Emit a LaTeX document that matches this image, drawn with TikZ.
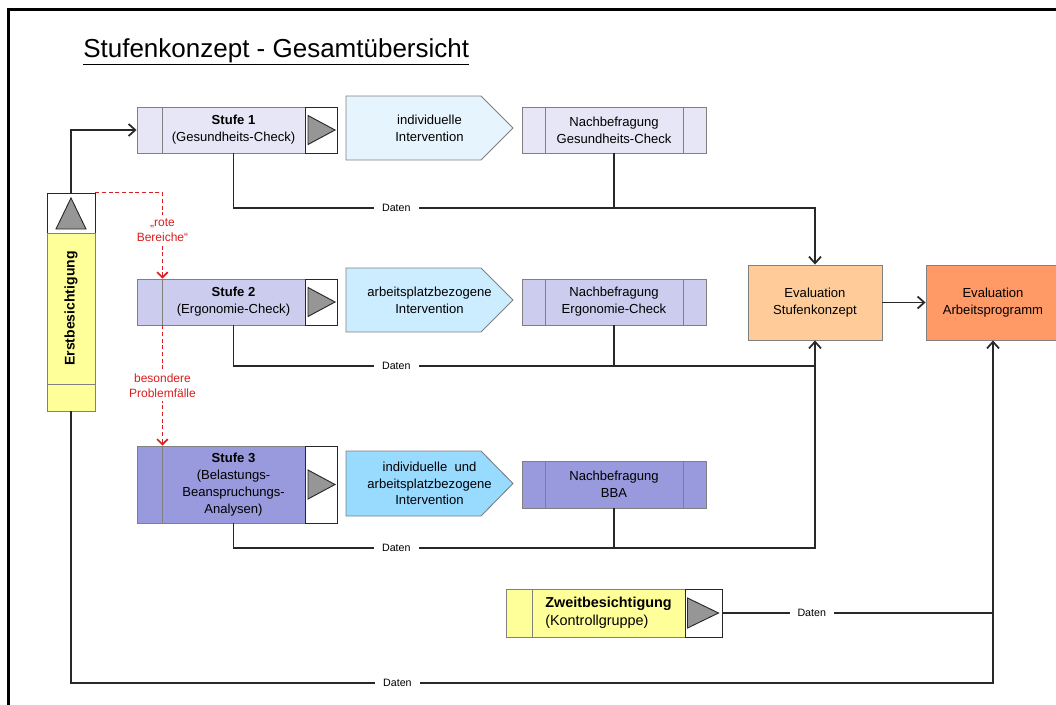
\documentclass[tikz,border=0pt]{standalone}
\usepackage{fontspec}
\setmainfont{Liberation Sans}
\usetikzlibrary{shapes,arrows.meta,calc}

\definecolor{stufeA}{RGB}{230,230,246}
\definecolor{stufeB}{RGB}{204,204,238}
\definecolor{stufeC}{RGB}{153,153,221}
\definecolor{chevA}{RGB}{230,244,253}
\definecolor{chevB}{RGB}{204,236,255}
\definecolor{chevC}{RGB}{153,218,255}
\definecolor{gelb}{RGB}{255,255,153}
\definecolor{evalA}{RGB}{255,204,153}
\definecolor{evalB}{RGB}{255,153,102}
\definecolor{boxgray}{RGB}{128,128,128}
\definecolor{darkline}{RGB}{40,40,40}
\definecolor{redline}{RGB}{220,30,30}
\definecolor{trigray}{RGB}{150,150,150}

\begin{document}
\begin{tikzpicture}[x=0.75pt,y=-0.75pt,
	bw/.style={minimum width=#1*0.75pt},
	bh/.style={minimum height=#1*0.75pt},
	box/.style={draw=boxgray, line width=0.7pt, inner sep=0pt, align=center, font=\fontsize{9.8}{12.6}\selectfont},
	tribox/.style={draw=darkline, fill=white, line width=0.7pt, inner sep=0pt},
	trimark/.style={draw=darkline, fill=trigray, line width=0.7pt},
	chevron/.style={draw=boxgray, line width=0.7pt},
	chevtext/.style={inner sep=0pt, align=center, font=\fontsize{9.8}{12.6}\selectfont},
	flow/.style={draw=darkline, line width=1.3pt},
	pfeil/.style={-{Straight Barb[length=5pt,width=9pt]}},
	daten/.style={fill=white, inner xsep=6pt, inner ysep=1pt, font=\fontsize{8}{9}\selectfont},
	rot/.style={draw=redline, line width=1.2pt, dash pattern=on 3pt off 2pt},
	rotpfeil/.style={-{Straight Barb[length=4pt,width=8pt]}},
	rotlabel/.style={fill=white, text=redline, align=center, inner xsep=1pt, inner ysep=3pt, font=\fontsize{9}{11}\selectfont}
]
	\useasboundingbox (0,0) rectangle (1056,704);
	\draw[line width=2.3pt] (8.7,9.5) rectangle (1100,760);

	\node[anchor=base west, inner sep=0pt, font=\fontsize{19.5}{23}\selectfont] (title) at (83,57) {\underline{Stufenkonzept - Gesamtübersicht}};

	% Stufe 1
	\node[box,bw=25,bh=46,fill=stufeA] (s1strip) at (149.5,130) {};
	\node[box,bw=143,bh=46,fill=stufeA] (s1main) at (233.5,130) {\textbf{Stufe 1}\\(Gesundheits-Check)};
	\node[tribox,bw=32,bh=46] (s1tri) at (321,130) {};
	\coordinate (c1) at (429.5,128);
	\draw[chevron,fill=chevA] ($(c1)+(-83.5,-32)$) -- ($(c1)+(51.5,-32)$) -- ($(c1)+(83.5,0)$) -- ($(c1)+(51.5,32)$) -- ($(c1)+(-83.5,32)$) -- cycle;
	\node[chevtext] (i1) at (c1) {individuelle\\Intervention};
	\node[box,bw=23,bh=46,fill=stufeA] (n1strip) at (533.5,130) {};
	\node[box,bw=138,bh=46,fill=stufeA] (n1main) at (614,130) {Nachbefragung\\Gesundheits-Check};
	\node[box,bw=23,bh=46,fill=stufeA] (n1end) at (694.5,130) {};

	% Stufe 2
	\node[box,bw=25,bh=46,fill=stufeB] (s2strip) at (149.5,302) {};
	\node[box,bw=143,bh=46,fill=stufeB] (s2main) at (233.5,302) {\textbf{Stufe 2}\\(Ergonomie-Check)};
	\node[tribox,bw=32,bh=46] (s2tri) at (321,302) {};
	\coordinate (c2) at (429.5,300);
	\draw[chevron,fill=chevB] ($(c2)+(-83.5,-32)$) -- ($(c2)+(51.5,-32)$) -- ($(c2)+(83.5,0)$) -- ($(c2)+(51.5,32)$) -- ($(c2)+(-83.5,32)$) -- cycle;
	\node[chevtext] (i2) at (c2) {arbeitsplatzbezogene\\Intervention};
	\node[box,bw=23,bh=46,fill=stufeB] (n2strip) at (533.5,302) {};
	\node[box,bw=138,bh=46,fill=stufeB] (n2main) at (614,302) {Nachbefragung\\Ergonomie-Check};
	\node[box,bw=23,bh=46,fill=stufeB] (n2end) at (694.5,302) {};

	% Stufe 3
	\node[box,bw=25,bh=77,fill=stufeC] (s3strip) at (149.5,484.5) {};
	\node[box,bw=143,bh=77,fill=stufeC] (s3main) at (233.5,484.5) {\textbf{Stufe 3}\\(Belastungs-\\Beanspruchungs-\\Analysen)};
	\node[tribox,bw=32,bh=77] (s3tri) at (321,484.5) {};
	\coordinate (c3) at (429.5,483.5);
	\draw[chevron,fill=chevC] ($(c3)+(-83.5,-32.5)$) -- ($(c3)+(51.5,-32.5)$) -- ($(c3)+(83.5,0)$) -- ($(c3)+(51.5,32.5)$) -- ($(c3)+(-83.5,32.5)$) -- cycle;
	\node[chevtext] (i3) at (c3) {individuelle~~und\\arbeitsplatzbezogene\\Intervention};
	\node[box,bw=23,bh=47,fill=stufeC] (n3strip) at (533.5,484.5) {};
	\node[box,bw=138,bh=47,fill=stufeC] (n3main) at (614,484.5) {Nachbefragung\\BBA};
	\node[box,bw=23,bh=47,fill=stufeC] (n3end) at (694.5,484.5) {};

	\foreach \t in {s1tri,s2tri,s3tri}
		\draw[trimark] ($(\t)+(-13,-14.5)$) -- ($(\t)+(14,0)$) -- ($(\t)+(-13,14.5)$) -- cycle;

	% Erst- und Zweitbesichtigung
	\node[tribox,bw=48,bh=40] (ebtri) at (71,213) {};
	\draw[trimark] ($(ebtri)+(-15,16)$) -- ($(ebtri)+(0,-15)$) -- ($(ebtri)+(15,16)$) -- cycle;
	\node[box,bw=151,bh=48,fill=gelb,rotate=90,font=\fontsize{10.5}{12}\selectfont\bfseries] (ebmain) at (71,308.5) {Erstbesichtigung};
	\node[box,bw=48,bh=27,fill=gelb] (ebstrip) at (71,397.5) {};

	\node[box,bw=26,bh=48,fill=gelb] (zbstrip) at (519,613) {};
	\node[box,bw=153,bh=48,fill=gelb,align=left,font=\fontsize{10.8}{13.5}\selectfont] (zbmain) at (608.5,613) {\textbf{Zweitbesichtigung}\\(Kontrollgruppe)};
	\node[tribox,bw=37,bh=48] (zbtri) at (703.5,613) {};
	\draw[trimark] ($(zbtri)+(-16,-15)$) -- ($(zbtri)+(15,0)$) -- ($(zbtri)+(-16,15)$) -- cycle;

	% Evaluation
	\node[box,bw=134,bh=75,fill=evalA] (es) at (815,302.5) {Evaluation\\Stufenkonzept};
	\node[box,bw=134,bh=75,fill=evalB] (ea) at (993,302.5) {Evaluation\\Arbeitsprogramm};

	% Datenfluss
	\draw[flow,pfeil] (ebtri.north) |- (s1strip.west);
	\coordinate (d1) at (es.north |- 0,208);
	\draw[flow,pfeil] (s1main.south) |- node[daten,pos=0.64] {Daten} (d1) -- (es.north);
	\draw[flow] (n1main.south) -- (n1main.south |- d1);
	\coordinate (d2) at (es.south |- 0,366);
	\draw[flow] (s2main.south) |- node[daten,pos=0.64] {Daten} (d2);
	\draw[flow] (n2main.south) -- (n2main.south |- d2);
	\coordinate (d3) at (es.south |- 0,548);
	\draw[flow,pfeil] (s3main.south) |- node[daten,pos=0.64] {Daten} (d3) -- (es.south);
	\draw[flow] (n3main.south) -- (n3main.south |- d3);
	\draw[flow,pfeil] (es) -- (ea);
	\coordinate (d4) at (ea.south |- 0,683);
	\draw[flow,pfeil] (ebstrip.south) |- node[daten,pos=0.677] {Daten} (d4) -- (ea.south);
	\draw[flow] (zbtri.east) -- node[daten,pos=0.33] {Daten} (zbtri.east -| d4);

	% rote Pfade
	\draw[rot,rotpfeil] (ebtri.north east) -| node[rotlabel,pos=0.72] {„rote\\Bereiche“} (s2strip.north east);
	\draw[rot,rotpfeil] (s2strip.south east) -- node[rotlabel] {besondere\\Problemfälle} (s3strip.north east);
\end{tikzpicture}
\end{document}
